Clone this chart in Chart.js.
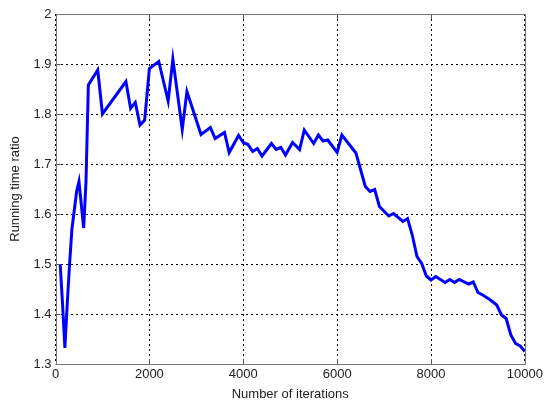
<!DOCTYPE html>
<html>
<head>
<meta charset="utf-8">
<script src="https://cdn.jsdelivr.net/npm/chart.js@4"></script>
<style>
  html, body { margin: 0; padding: 0; background: #fff; }
  #wrap { width: 546px; height: 405px; }
</style>
</head>
<body>
<div id="wrap"><canvas id="ratioChart" width="546" height="405"></canvas></div>
<script>
const iterations = [100, 150, 200, 250, 300, 350, 450, 500, 600, 650, 700, 900, 1000, 1500, 1600, 1700, 1800, 1900, 2000, 2200,
  2400, 2500, 2700, 2800, 3100, 3300, 3400, 3600, 3700, 3900, 4000, 4100, 4200, 4300, 4400, 4600, 4700, 4800, 4900, 5050,
  5200, 5300, 5500, 5600, 5700, 5800, 6000, 6100, 6400, 6600, 6700, 6800, 6900, 7100, 7200, 7400, 7500, 7600, 7700, 7800,
  7900, 8000, 8100, 8300, 8400, 8500, 8600, 8800, 8900, 9000, 9100, 9250, 9400, 9500, 9600, 9700, 9800, 9900, 10000];
const ratio = [1.500, 1.420, 1.332, 1.420, 1.500, 1.570, 1.645, 1.665, 1.572, 1.665, 1.858, 1.888, 1.800, 1.865, 1.811, 1.823, 1.778, 1.788, 1.891, 1.905,
  1.826, 1.910, 1.769, 1.845, 1.759, 1.773, 1.751, 1.763, 1.723, 1.757, 1.743, 1.739, 1.725, 1.731, 1.716, 1.741, 1.729, 1.733, 1.718, 1.743,
  1.729, 1.768, 1.741, 1.758, 1.746, 1.748, 1.723, 1.758, 1.722, 1.655, 1.645, 1.649, 1.615, 1.596, 1.601, 1.585, 1.591, 1.558, 1.515, 1.501,
  1.476, 1.468, 1.475, 1.463, 1.469, 1.463, 1.469, 1.460, 1.464, 1.443, 1.438, 1.429, 1.418, 1.398, 1.391, 1.358, 1.341, 1.336, 1.325];

const xTicks = [0, 2000, 4000, 6000, 8000, 10000];
const yTicks = [1.3, 1.4, 1.5, 1.6, 1.7, 1.8, 1.9, 2];
const yTickLabels = ['1.3', '1.4', '1.5', '1.6', '1.7', '1.8', '1.9', '2'];

// box round the plot plus matlab style inward ticks
const boxPlugin = {
  id: 'box',
  afterDraw(chart) {
    const c = chart.ctx, a = chart.chartArea;
    const xs = chart.scales.x, ys = chart.scales.y;
    c.save();
    c.strokeStyle = '#555';
    c.lineWidth = 1;
    c.beginPath();
    xTicks.forEach(v => {
      const px = Math.round(xs.getPixelForValue(v)) + 0.5;
      c.moveTo(px, a.bottom); c.lineTo(px, a.bottom - 5);
      c.moveTo(px, a.top); c.lineTo(px, a.top + 5);
    });
    yTicks.forEach(v => {
      const py = Math.round(ys.getPixelForValue(v)) + 0.5;
      c.moveTo(a.left, py); c.lineTo(a.left + 5, py);
      c.moveTo(a.right, py); c.lineTo(a.right - 5, py);
    });
    c.stroke();
    c.strokeStyle = '#777';
    c.strokeRect(Math.round(a.left) + 0.5, Math.round(a.top) + 0.5,
      Math.round(a.right - a.left), Math.round(a.bottom - a.top));
    c.restore();
  }
};

const ctx = document.getElementById('ratioChart').getContext('2d');
const ratioChart = new Chart(ctx, {
  type: 'line',
  data: {
    datasets: [{
      label: 'Running time ratio',
      data: iterations.map((it, i) => ({ x: it, y: ratio[i] })),
      borderColor: '#0000ff',
      borderWidth: 3,
      pointRadius: 0,
      tension: 0,
      fill: false
    }]
  },
  options: {
    responsive: false,
    animation: false,
    layout: { padding: { top: 14, right: 21, left: 0, bottom: 0 } },
    plugins: {
      legend: { display: false },
      tooltip: { enabled: false }
    },
    scales: {
      x: {
        type: 'linear',
        min: 0,
        max: 10000,
        afterBuildTicks: s => { s.ticks = xTicks.map(v => ({ value: v })); },
        afterFit: s => { s.height = 41; },
        ticks: {
          color: '#222',
          font: { family: 'Liberation Sans', size: 13 },
          padding: 3,
          maxRotation: 0,
          callback: v => String(v)
        },
        grid: { color: '#000', lineWidth: 1, drawTicks: false },
        border: { display: false, dash: [2, 3] },
        title: {
          display: true,
          text: 'Number of iterations',
          color: '#222',
          font: { family: 'Liberation Sans', size: 13 },
          padding: { top: 0, bottom: 3 }
        }
      },
      y: {
        min: 1.3,
        max: 2,
        afterBuildTicks: s => { s.ticks = yTicks.map(v => ({ value: v })); },
        afterFit: s => { s.width = 55.5; },
        ticks: {
          color: '#222',
          font: { family: 'Liberation Sans', size: 13 },
          padding: 4,
          callback: (v, i) => yTickLabels[i]
        },
        grid: { color: '#000', lineWidth: 1, drawTicks: false },
        border: { display: false, dash: [2, 3] },
        title: {
          display: true,
          text: 'Running time ratio',
          color: '#222',
          font: { family: 'Liberation Sans', size: 13 },
          padding: { top: 8, bottom: 0 }
        }
      }
    }
  },
  plugins: [boxPlugin]
});
</script>
</body>
</html>
